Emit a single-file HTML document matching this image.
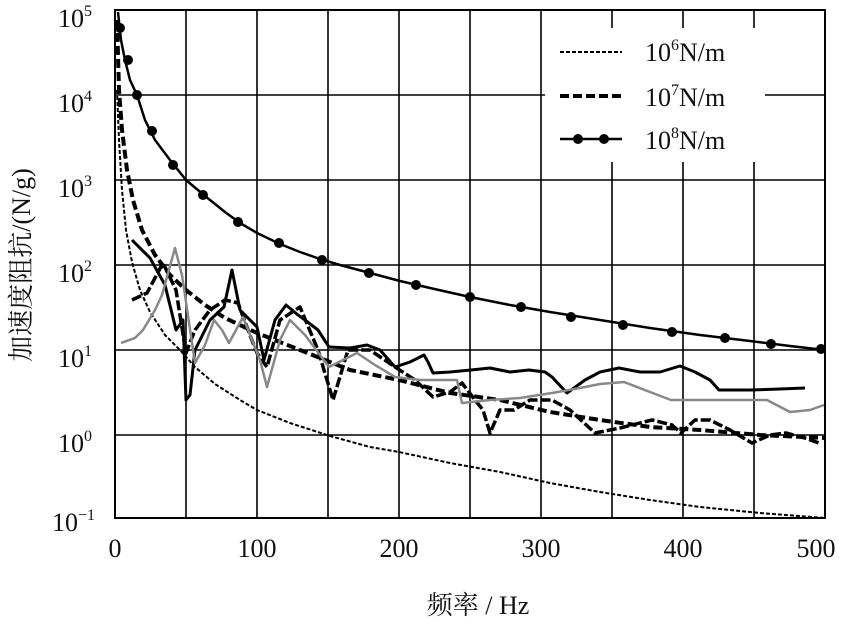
<!DOCTYPE html>
<html><head><meta charset="utf-8"><style>
body{margin:0;background:#fff}
svg text{font-family:"Liberation Serif","Noto Serif CJK SC",serif;fill:#111}
</style></head><body>
<svg width="846" height="620" viewBox="0 0 846 620" xmlns="http://www.w3.org/2000/svg">
<g stroke="#000" stroke-width="1.6" fill="none">
<rect x="115" y="10" width="710" height="508" stroke-width="2"/>
<line x1="186" y1="10" x2="186" y2="518"/><line x1="257" y1="10" x2="257" y2="518"/>
<line x1="328" y1="10" x2="328" y2="518"/><line x1="399" y1="10" x2="399" y2="518"/>
<line x1="470" y1="10" x2="470" y2="518"/><line x1="541" y1="10" x2="541" y2="518"/>
<line x1="612" y1="10" x2="612" y2="518"/><line x1="683" y1="10" x2="683" y2="518"/>
<line x1="754" y1="10" x2="754" y2="518"/>
<line x1="115" y1="95" x2="825" y2="95"/><line x1="115" y1="180" x2="825" y2="180"/>
<line x1="115" y1="265" x2="825" y2="265"/><line x1="115" y1="350" x2="825" y2="350"/>
<line x1="115" y1="435" x2="825" y2="435"/>
</g>
<g font-size="26">
<text x="58" y="27">10<tspan font-size="16" dy="-11">5</tspan></text>
<text x="58" y="112">10<tspan font-size="16" dy="-11">4</tspan></text>
<text x="58" y="197">10<tspan font-size="16" dy="-11">3</tspan></text>
<text x="58" y="282">10<tspan font-size="16" dy="-11">2</tspan></text>
<text x="58" y="367">10<tspan font-size="16" dy="-11">1</tspan></text>
<text x="58" y="452">10<tspan font-size="16" dy="-11">0</tspan></text>
<text x="52" y="531">10<tspan font-size="16" dy="-11">−1</tspan></text>
<g text-anchor="middle">
<text x="115" y="557">0</text><text x="257" y="557">100</text><text x="399" y="557">200</text>
<text x="541" y="557">300</text><text x="683" y="557">400</text><text x="816" y="557">500</text>
</g>
<text x="478" y="614" text-anchor="middle">频率 / Hz</text>
<text transform="translate(30,265) rotate(-90)" text-anchor="middle">加速度阻抗/(N/g)</text>
<rect x="545" y="28" width="220" height="134" fill="#fff" stroke="none"/>
<text x="645" y="61">10<tspan font-size="16" dy="-11">6</tspan><tspan dy="11">N/m</tspan></text>
<text x="645" y="106">10<tspan font-size="16" dy="-11">7</tspan><tspan dy="11">N/m</tspan></text>
<text x="645" y="149">10<tspan font-size="16" dy="-11">8</tspan><tspan dy="11">N/m</tspan></text>
</g>
<g fill="none" stroke="#000">
<line x1="560" y1="52" x2="622" y2="52" stroke-width="2" stroke-dasharray="4,2"/>
<line x1="560" y1="96" x2="622" y2="96" stroke-width="4" stroke-dasharray="9,4"/>
<line x1="560" y1="139" x2="622" y2="139" stroke-width="2.5"/>
</g>
<circle cx="578" cy="139" r="5"/><circle cx="604" cy="139" r="5"/>
<g fill="none" stroke="#000" stroke-linejoin="round">
<path stroke-width="2.5" d="M118,12 L121,40 L125,60 L130,80 L137,95 L145,120 L155,140 L170,160 L186,180 L205,196 L225,212 L240,223 L257,233 L280,244 L300,252 L320,259 L340,265 L370,273 L400,281 L430,288 L470,297 L510,305 L550,312 L600,320 L650,328 L700,335 L750,341 L790,346 L825,350"/>
<path stroke-width="2" stroke-dasharray="4,2" d="M117,90 L119,140 L122,190 L126,230 L132,262 L140,290 L150,312 L165,335 L180,350 L195,367 L215,384 L240,400 L257,410 L290,423 L330,436 L370,447 L399,452 L450,463 L500,472 L550,483 L600,492 L650,500 L700,507 L760,513 L825,518"/>
<path stroke-width="4" stroke-dasharray="9,4" d="M117,20 L119,90 L122,130 L127,170 L133,200 L142,230 L155,255 L170,275 L186,290 L205,305 L225,318 L257,333 L300,350 L350,370 L399,380 L450,393 L500,400 L550,412 L600,420 L650,427 L700,430 L760,435 L825,438"/>
<path stroke-width="3.5" stroke-dasharray="10,3" d="M132,300 L147,293 L163,263 L176,290 L186,353 L195,330 L210,310 L225,300 L238,303 L248,330 L257,353 L267,367 L280,320 L300,307 L318,350 L333,400 L348,350 L370,350 L395,367 L415,380 L433,397 L450,392 L462,383 L475,400 L483,410 L490,433 L500,410 L514,410 L530,400 L552,400 L570,410 L595,433 L620,428 L652,420 L672,425 L681,433 L695,420 L710,420 L730,430 L752,443 L770,435 L786,433 L805,438 L819,443"/>
<path stroke-width="3" d="M132,240 L150,258 L165,285 L176,330 L183,320 L186,400 L190,395 L195,350 L210,320 L224,307 L232,270 L240,310 L257,327 L264,360 L275,320 L286,305 L298,315 L305,320 L318,330 L329,347 L350,348 L367,345 L380,350 L395,367 L410,362 L424,355 L428,362 L433,373 L450,372 L471,370 L490,368 L510,372 L529,370 L545,372 L552,377 L567,393 L585,380 L600,372 L619,368 L640,372 L660,372 L680,366 L695,372 L710,380 L719,390 L750,390 L780,389 L805,388"/>
<path stroke-width="2.5" stroke="#888" d="M121,343 L135,338 L143,330 L155,310 L162,295 L175,248 L182,275 L195,363 L205,345 L214,320 L222,330 L229,343 L243,317 L252,340 L260,360 L267,387 L280,340 L290,320 L305,335 L329,367 L357,353 L375,365 L395,377 L420,380 L457,380 L462,403 L490,400 L520,398 L552,393 L580,388 L600,384 L624,382 L650,392 L671,400 L720,400 L767,400 L790,412 L810,410 L824,405"/>
</g>
<g fill="#000">
<circle cx="120" cy="28" r="5"/><circle cx="128" cy="60" r="5"/><circle cx="137" cy="95" r="5"/>
<circle cx="152" cy="131" r="5"/><circle cx="173" cy="165" r="5"/><circle cx="203" cy="195" r="5"/>
<circle cx="238" cy="222" r="5"/><circle cx="279" cy="243" r="5"/><circle cx="322" cy="260" r="5"/>
<circle cx="369" cy="273" r="5"/><circle cx="416" cy="285" r="5"/><circle cx="470" cy="297" r="5"/>
<circle cx="521" cy="307" r="5"/><circle cx="571" cy="317" r="5"/><circle cx="623" cy="325" r="5"/>
<circle cx="672" cy="332" r="5"/><circle cx="725" cy="338" r="5"/><circle cx="771" cy="344" r="5"/>
<circle cx="821" cy="349" r="5"/>
</g>
</svg>
</body></html>
